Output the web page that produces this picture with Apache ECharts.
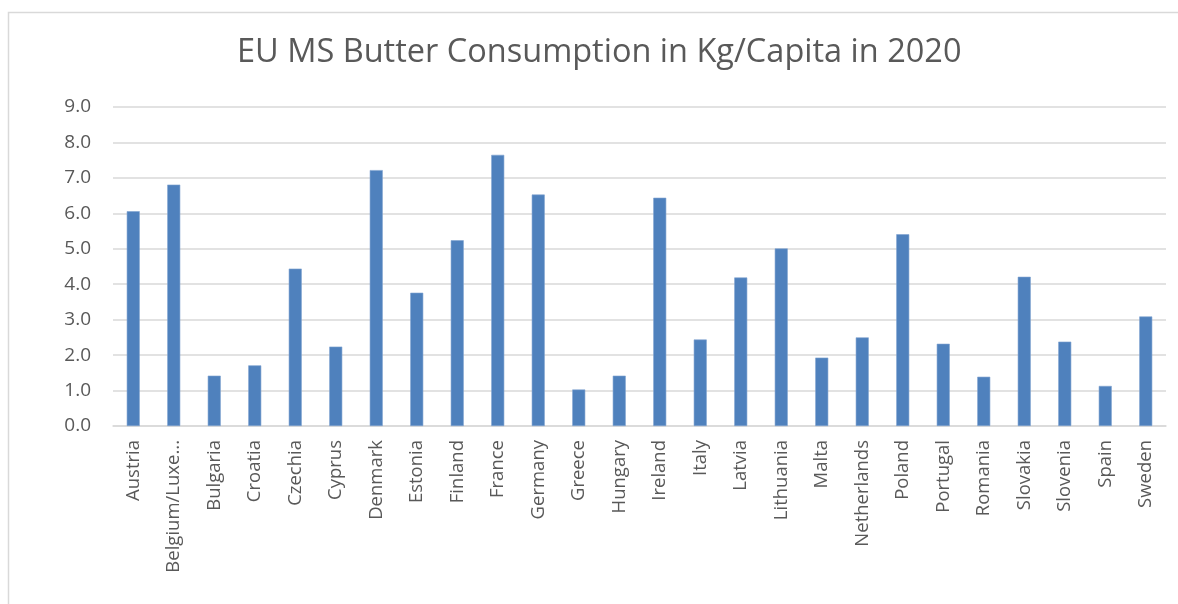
<!DOCTYPE html>
<html>
<head>
<meta charset="utf-8">
<script src="https://cdn.jsdelivr.net/npm/echarts@6/dist/echarts.min.js"></script>
<style>
html,body{margin:0;padding:0;background:#fff;}
#chart{width:1178px;height:604px;}
</style>
</head>
<body>
<div id="chart"></div>
<script>
const titleText = 'EU MS Butter Consumption in Kg/Capita in 2020';
const categories = ['Austria','Belgium/Luxembourg','Bulgaria','Croatia','Czechia','Cyprus','Denmark','Estonia','Finland','France','Germany','Greece','Hungary','Ireland','Italy','Latvia','Lithuania','Malta','Netherlands','Poland','Portugal','Romania','Slovakia','Slovenia','Spain','Sweden'];
const consumption = [6.06,6.81,1.42,1.71,4.44,2.24,7.22,3.76,5.24,7.65,6.53,1.03,1.42,6.44,2.44,4.19,5.01,1.93,2.50,5.41,2.32,1.39,4.21,2.38,1.13,3.09];
const yMin = 0, yMax = 9, yStep = 1;

const chart = echarts.init(document.getElementById('chart'));
const font = '"Open Sans", "Noto Sans", sans-serif';
chart.setOption({
  animation: false,
  backgroundColor: '#ffffff',
  graphic: [{
    type: 'rect',
    shape: {x: 8.5, y: 12.5, width: 1300, height: 800},
    style: {fill: 'none', stroke: '#d9d9d9', lineWidth: 1.5},
    silent: true
  }],
  title: {
    text: titleText,
    left: 232,
    top: 31,
    textStyle: {fontFamily: font, fontSize: 32.5, fontWeight: 'normal', color: '#595959'}
  },
  grid: {left: 113, right: 12, top: 107, bottom: 178, containLabel: false},
  xAxis: {
    type: 'category',
    data: categories,
    axisLine: {show: true, lineStyle: {color: '#d9d9d9', width: 1.5}},
    axisTick: {show: false},
    axisLabel: {
      rotate: 90,
      interval: 0,
      margin: 14,
      color: '#595959',
      fontFamily: font,
      fontSize: 18.5,
      formatter: v => v.length > 14 ? v.slice(0, 12) + '...' : v
    }
  },
  yAxis: {
    type: 'value',
    min: yMin, max: yMax, interval: yStep,
    axisLine: {show: false},
    axisTick: {show: false},
    splitLine: {lineStyle: {color: '#d9d9d9', width: 1.5}},
    axisLabel: {
      margin: 22,
      color: '#595959',
      fontFamily: font,
      fontSize: 19,
      formatter: v => v.toFixed(1)
    }
  },
  series: [{
    type: 'bar',
    data: consumption,
    barWidth: 13,
    itemStyle: {color: '#4f81bd', borderColor: '#7fa3d0', borderWidth: 0.6}
  }]
});
</script>
</body>
</html>
